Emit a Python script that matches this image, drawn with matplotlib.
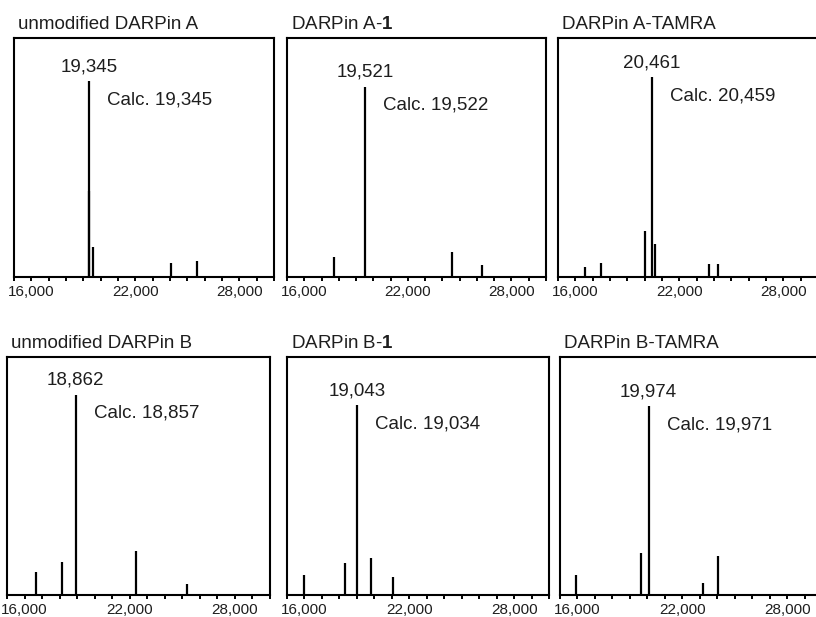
import matplotlib
matplotlib.use("Agg")
import matplotlib.pyplot as plt
from matplotlib.ticker import FixedLocator, MultipleLocator, FuncFormatter

plt.rcParams["font.family"] = ["Liberation Sans", "DejaVu Sans"]
plt.rcParams["mathtext.fontset"] = "custom"
plt.rcParams["mathtext.rm"] = "Liberation Sans"
plt.rcParams["mathtext.bf"] = "Liberation Sans:bold"

# panel titles and labels
titles = ["unmodified DARPin A", r"DARPin A-$\mathbf{1}$", "DARPin A-TAMRA",
          "unmodified DARPin B", r"DARPin B-$\mathbf{1}$", "DARPin B-TAMRA"]
found_labels = ["19,345", "19,521", "20,461", "18,862", "19,043", "19,974"]
calc_labels = ["Calc. 19,345", "Calc. 19,522", "Calc. 20,459",
               "Calc. 18,857", "Calc. 19,034", "Calc. 19,971"]

# deconvoluted peaks (mass in Da, relative intensity)
a_wt_mass = [19345, 19330, 19540, 24040, 25540]
a_wt_int = [0.82, 0.36, 0.125, 0.058, 0.068]
a_1_mass = [17695, 19524, 24544, 26275]
a_1_int = [0.082, 0.796, 0.106, 0.05]
a_tam_mass = [16540, 17464, 20003, 20424, 20597, 23697, 24254]
a_tam_int = [0.043, 0.057, 0.192, 0.835, 0.137, 0.053, 0.053]
b_wt_mass = [16657, 18109, 18926, 22354, 25251]
b_wt_int = [0.098, 0.14, 0.842, 0.186, 0.045]
b_1_mass = [15952, 18326, 19031, 19834, 21078]
b_1_int = [0.083, 0.136, 0.797, 0.157, 0.074]
b_tam_mass = [15943, 19617, 20074, 23183, 24040]
b_tam_int = [0.083, 0.178, 0.793, 0.049, 0.164]

masses = [a_wt_mass, a_1_mass, a_tam_mass, b_wt_mass, b_1_mass, b_tam_mass]
intens = [a_wt_int, a_1_int, a_tam_int, b_wt_int, b_1_int, b_tam_int]

W, H = 816, 617
fig = plt.figure(figsize=(W / 100, H / 100), dpi=100)

# axes boxes in pixels: left, right, top, bottom
boxes = [(14, 274, 38, 277), (287, 546, 38, 277), (558, 818, 38, 277),
         (7, 270, 357, 595), (287, 549, 357, 595), (560, 822, 357, 595)]

txt_col = "#1e1e1e"

for i in range(6):
    l, r, t, b = boxes[i]
    ax = fig.add_axes([l / W, 1 - b / H, (r - l) / W, (b - t) / H])
    ax.vlines(masses[i], 0, intens[i], color="black", lw=1.6)
    ax.set_xlim(15000, 30000)
    ax.set_ylim(0, 1)
    ax.set_yticks([])
    ax.xaxis.set_major_locator(FixedLocator([16000, 22000, 28000]))
    ax.xaxis.set_minor_locator(MultipleLocator(1000))
    ax.xaxis.set_major_formatter(FuncFormatter(lambda v, p: f"{int(v):,}"))
    ax.tick_params(axis="x", which="both", direction="out", length=3,
                   width=1.4, colors="black", pad=2.5)
    ax.tick_params(axis="x", which="major", labelsize=11, labelcolor=txt_col)
    for s in ax.spines.values():
        s.set_linewidth(1.5)

    # main peak gets the labels
    k = intens[i].index(max(intens[i]))
    px, py = masses[i][k], intens[i][k]
    ax.annotate(found_labels[i], xy=(px, py), xytext=(0, 10),
                textcoords="offset pixels", ha="center", va="baseline",
                fontsize=13.5, color=txt_col)
    ax.annotate(calc_labels[i], xy=(px, py), xytext=(18, -23),
                textcoords="offset pixels", ha="left", va="baseline",
                fontsize=13.5, color=txt_col)
    ax.annotate(titles[i], xy=(0, 1), xycoords="axes fraction",
                xytext=(4, 9), textcoords="offset pixels", ha="left",
                va="baseline", fontsize=13.5, color=txt_col,
                annotation_clip=False)

plt.savefig("out.png", dpi=100)
